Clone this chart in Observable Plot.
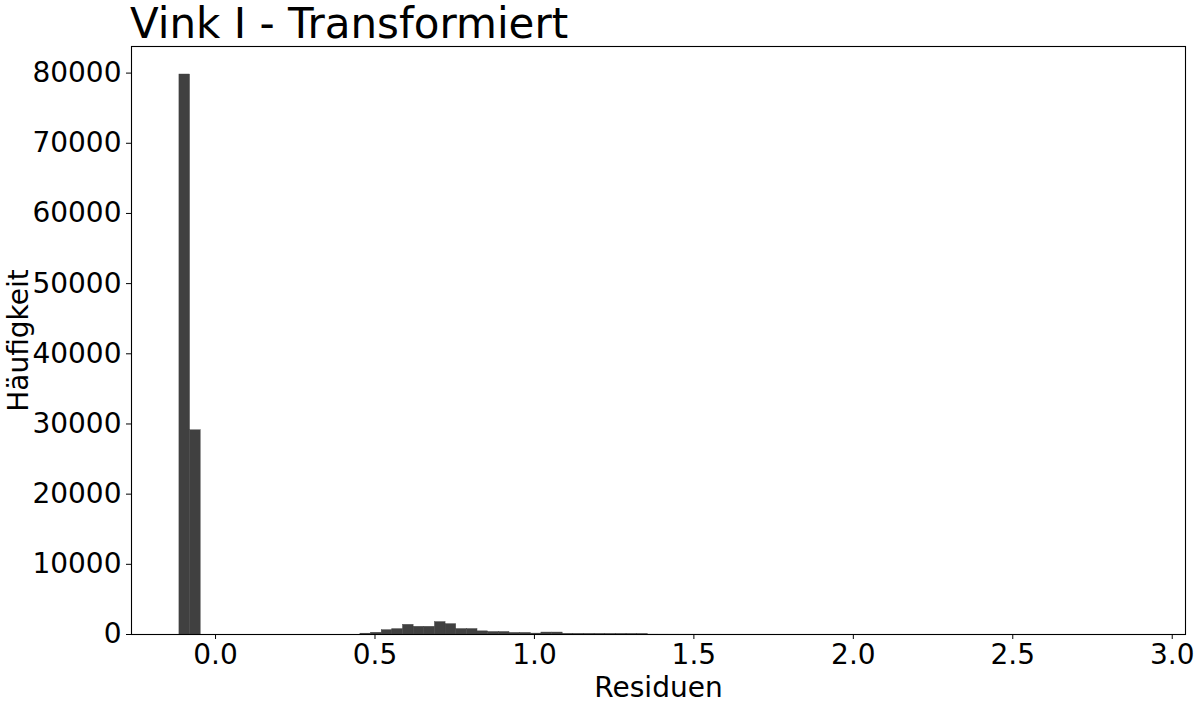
<!DOCTYPE html>
<html>
<head>
<meta charset="utf-8">
<script src="https://cdn.jsdelivr.net/npm/d3@7"></script>
<script src="https://cdn.jsdelivr.net/npm/@observablehq/plot@0.6"></script>
<style>
  html, body { margin: 0; padding: 0; background: #fff; }
  #fig { position: relative; width: 1194px; height: 702px; overflow: hidden; background: #fff; }
  #chart { position: absolute; left: 0; top: 30px; }
  #title { position: absolute; left: 130px; top: 3px; font: 42px/42px "DejaVu Sans", sans-serif; color: #000; white-space: nowrap; }
</style>
</head>
<body>
<div id="fig">
  <div id="chart"></div>
  <div id="title">Vink I - Transformiert</div>
</div>
<script>
// Histogram of residuals: 90 equal-width bins between the smallest and largest residual
const binLow = -0.1133;
const binHigh = 2.8914;
const counts = [
  79800, 29100, 0, 0, 0, 0, 0, 0, 0, 0,
  0, 0, 0, 0, 0, 0, 0, 120, 250, 620,
  770, 1380, 1100, 1100, 1770, 1480, 780, 780, 450, 360,
  360, 230, 230, 130, 280, 280, 90, 85, 80, 75,
  70, 70, 65, 60, 15, 12, 10, 8, 6, 5,
  4, 3, 3, 2, 2, 2, 1, 1, 1, 1,
  1, 0, 1, 0, 1, 0, 0, 1, 0, 0,
  1, 0, 0, 0, 1, 0, 0, 0, 0, 1,
  0, 0, 0, 0, 0, 0, 0, 0, 0, 1
];
const xTicks = [0, 0.5, 1.0, 1.5, 2.0, 2.5, 3.0];
const yTicks = [0, 10000, 20000, 30000, 40000, 50000, 60000, 70000, 80000];
const xLabel = "Residuen";
const yLabel = "Häufigkeit";

const binWidth = (binHigh - binLow) / counts.length;
const bins = counts.map((c, i) => ({
  x1: binLow + i * binWidth,
  x2: binLow + (i + 1) * binWidth,
  count: c
})).filter(d => d.count > 0);

// 5% padding around the data on x, headroom of 5% above the tallest bar
const pad = 0.05 * (binHigh - binLow);
const yMax = d3.max(counts) * 1.05;

const chart = Plot.plot({
  width: 1194,
  height: 672,
  marginLeft: 131,
  marginRight: 9,
  marginTop: 16,
  marginBottom: 68,
  style: { fontFamily: "DejaVu Sans, sans-serif", fontSize: "28px", color: "#000", background: "transparent" },
  x: { domain: [binLow - pad, binHigh + pad] },
  y: { domain: [0, yMax] },
  marks: [
    // a thin outline on the visible bars closes the anti-aliasing seams between neighbours
    Plot.rectY(bins, { x1: "x1", x2: "x2", y: "count", fill: "#404040",
      stroke: d => d.count > 50 ? "#404040" : "none", strokeWidth: 0.4 }),
    Plot.axisX({ ticks: xTicks, tickFormat: d3.format(".1f"), tickSize: 5, tickPadding: 5, label: null, fontSize: 28 }),
    Plot.axisY({ ticks: yTicks, tickFormat: d => String(d), tickSize: 5, tickPadding: 5, label: null, fontSize: 28 }),
    Plot.text([xLabel], { text: d => d, frameAnchor: "bottom", lineAnchor: "bottom", dy: 62, fontSize: 28 }),
    Plot.text([yLabel], { text: d => d, frameAnchor: "left", rotate: -90, textAnchor: "middle", lineAnchor: "bottom", dx: -104, fontSize: 28 }),
    Plot.frame({ stroke: "#000", strokeWidth: 1.1 })
  ]
});
document.getElementById("chart").appendChild(chart);
</script>
</body>
</html>
